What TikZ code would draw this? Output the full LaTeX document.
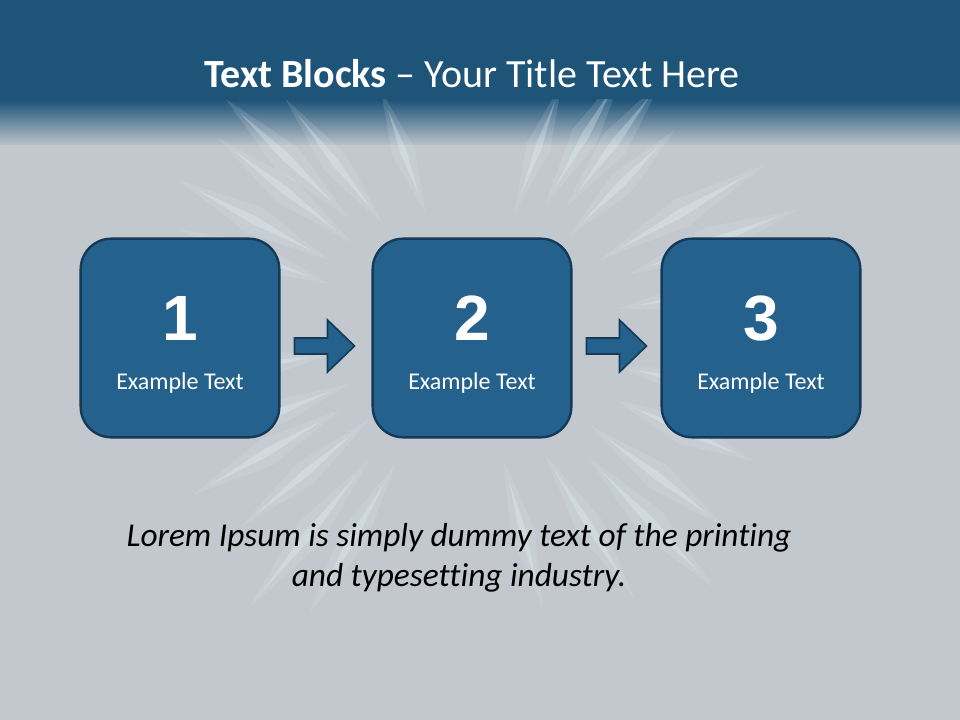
\documentclass[tikz,border=0pt]{standalone}
\usepackage{fontspec}
\setmainfont{Carlito}[Ligatures=NoCommon]
\newfontfamily\numfont{Liberation Sans}
\usetikzlibrary{calc}

\definecolor{bandblue}{HTML}{1F5479}
\definecolor{bggray}{HTML}{C2C8CE}
\definecolor{fadegray}{HTML}{B9C1C9}
\definecolor{boxfill}{HTML}{25618D}
\definecolor{boxline}{HTML}{143A58}
\definecolor{raycol}{HTML}{EAF8FC}

\tikzset{
  stepbox/.style={draw=boxline, line width=1.8pt, fill=boxfill, rounded corners=23pt,
    minimum width=149pt, minimum height=149pt, inner sep=0pt},
  numtext/.style={text=white, anchor=base, font=\numfont\bfseries\fontsize{48}{48}\selectfont},
  labtext/.style={text=white, anchor=base, font=\fontsize{18}{18}\selectfont},
  blockarr/.style={draw=boxline, line width=1.2pt, fill=boxfill, line join=miter},
  glow/.style={fill=raycol, opacity=0.13},
  ray/.style={fill=raycol, opacity=0.28},
  titletext/.style={text=white, anchor=base, font=\fontsize{30}{30}\selectfont},
  bodytext/.style={align=center, font=\itshape\fontsize{25}{30}\selectfont}
}

\begin{document}
\begin{tikzpicture}[x=0.75pt, y=-0.75pt]
\useasboundingbox (0,0) rectangle (960,720);
% background and title band
\fill[bggray] (0,0) rectangle (960,720);
\fill[bandblue] (0,0) rectangle (960,100);
\shade[top color=bandblue, bottom color=fadegray] (0,100) rectangle (960,145);

% light streaks
\coordinate (c) at (470,335);
\begin{scope}
\clip (0,100) rectangle (960,720);
\foreach \a/\ri/\ro in {120/170/300, 129/180/330, 140/150/280, 150/170/300, 158/150/260,
    172/160/250, 200/170/290, 208/180/310, 218/170/300, 224/190/320, 232/160/280,
    250/150/240, 290/150/250, 300/170/290, 307/180/300, 315/160/270, 330/170/320,
    339/190/330, 350/170/290, 12/170/280, 24/180/290, 37/170/300, 46/190/330, 58/160/290, 75/150/260} {
  \pgfmathsetmacro{\rm}{(\ri+\ro)/2}
  \fill[glow] ($(c)+(\a:\ri-20)$) -- ($(c)+(\a-3.5:\rm)$) -- ($(c)+(\a:\ro+20)$) -- ($(c)+(\a+3.5:\rm)$) -- cycle;
  \fill[ray] ($(c)+(\a:\ri)$) -- ($(c)+(\a-1:\rm)$) -- ($(c)+(\a:\ro)$) -- ($(c)+(\a+1:\rm)$) -- cycle;
}
\end{scope}

% title
\node[titletext] (title) at (472,88) {\textbf{Text Blocks} – Your Title Text Here};

% blocks
\node[stepbox] (b1) at (180,338) {};
\node[stepbox] (b2) at (472,338) {};
\node[stepbox] (b3) at (761,338) {};
\foreach \n in {1,2,3} {
  \node[numtext] (n\n) at ($(b\n.center)+(0,2)$) {\n};
  \node[labtext] (l\n) at ($(b\n.center)+(0,51)$) {Example Text};
}

% arrows between blocks
\coordinate (a1) at ($(b1.east)+(14,8)$);
\coordinate (a2) at ($(b2.east)+(14,8)$);
\foreach \k in {1,2}
  \filldraw[blockarr] (a\k) ++(0,-8) -- ++(33,0) -- ++(0,-18) -- ++(27,26)
    -- ++(-27,26) -- ++(0,-18) -- ++(-33,0) -- cycle;

% body text
\node[bodytext] (lorem) at (459,558) {Lorem Ipsum is simply dummy text of the printing\\and typesetting industry.};
\end{tikzpicture}
\end{document}
